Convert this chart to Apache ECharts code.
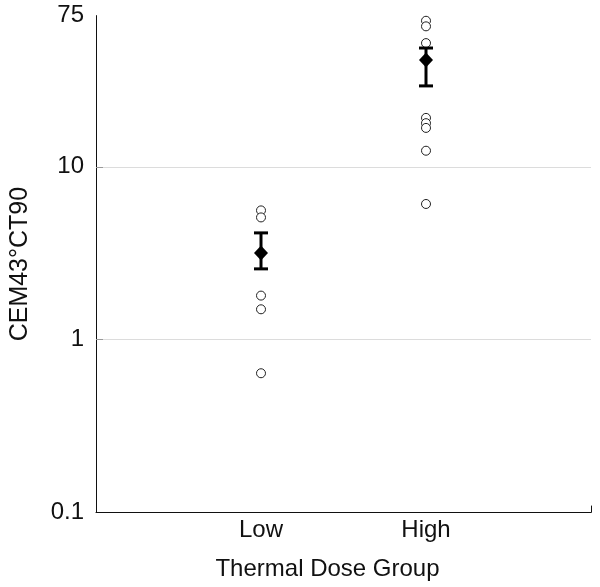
<!DOCTYPE html>
<html>
<head>
<meta charset="utf-8">
<script src="https://cdn.jsdelivr.net/npm/echarts@6/dist/echarts.min.js"></script>
<style>html,body{margin:0;padding:0;background:#fff}#c{width:600px;height:587px}</style>
</head>
<body>
<div id="c"></div>
<script>
var groups = ['Low', 'High'];
var groupPos = [1, 2];
var lowPoints = [5.6, 5.1, 1.8, 1.5, 0.64];
var highPoints = [70, 65, 52, 19.2, 17.9, 16.8, 12.4, 6.1];
var means = [3.18, 41.5];
var errLower = [2.57, 29.4];
var errUpper = [4.15, 48.7];
var yTickLabels = [0.1, 1, 10, 75];

var FONT = 'Liberation Sans, Arial, sans-serif';
var pts = [];
lowPoints.forEach(function (v) { pts.push([groupPos[0], v]); });
highPoints.forEach(function (v) { pts.push([groupPos[1], v]); });
var meanData = means.map(function (v, i) { return [groupPos[i], v]; });
var errData = means.map(function (v, i) { return [groupPos[i], errLower[i], errUpper[i]]; });

var chart = echarts.init(document.getElementById('c'), null, {renderer: 'canvas'});
chart.setOption({
  animation: false,
  backgroundColor: '#fff',
  grid: {left: 95, right: 9, top: 15.6, bottom: 74.4, containLabel: false},
  xAxis: {
    type: 'value', min: 0, max: 3,
    name: 'Thermal Dose Group', nameLocation: 'middle', nameGap: 45,
    nameTextStyle: {fontFamily: FONT, fontSize: 24, color: '#111', padding: [0, 32, 0, 0]},
    axisLine: {show: true, lineStyle: {color: '#111', width: 1}},
    axisTick: {show: true, inside: true, length: 7, customValues: [3], lineStyle: {color: '#111'}},
    axisLabel: {show: true, customValues: groupPos, margin: 6,
      fontFamily: FONT, fontSize: 24, color: '#111',
      formatter: function (v) { var i = groupPos.indexOf(v); return i >= 0 ? groups[i] : ''; }},
    splitLine: {show: false}
  },
  yAxis: {
    type: 'log', logBase: 10, min: 0.1, max: 75,
    name: 'CEM43°CT90', nameLocation: 'middle', nameGap: 63,
    nameTextStyle: {fontFamily: FONT, fontSize: 25, color: '#111'},
    axisLine: {show: true, lineStyle: {color: '#111', width: 1}},
    axisTick: {show: true, inside: true, length: 7, customValues: [1, 10], lineStyle: {color: '#999'}},
    axisLabel: {show: true, customValues: yTickLabels, margin: 12,
      fontFamily: FONT, fontSize: 24, color: '#111',
      formatter: function (v) { return String(+v.toPrecision(3)); }},
    splitLine: {show: true, lineStyle: {color: '#dcdcdc', width: 1}}
  },
  series: [
    {
      type: 'scatter', data: pts, symbol: 'circle', symbolSize: 9, z: 2,
      itemStyle: {color: '#fff', borderColor: '#222', borderWidth: 1, opacity: 1}
    },
    {
      type: 'custom', z: 3, data: errData,
      renderItem: function (params, api) {
        var x = api.value(0);
        var lo = api.coord([x, api.value(1)]);
        var hi = api.coord([x, api.value(2)]);
        var hw = 7;
        var st = {stroke: '#000', lineWidth: 3};
        return {type: 'group', children: [
          {type: 'line', shape: {x1: lo[0], y1: lo[1], x2: hi[0], y2: hi[1]}, style: st},
          {type: 'line', shape: {x1: lo[0] - hw, y1: lo[1], x2: lo[0] + hw, y2: lo[1]}, style: st},
          {type: 'line', shape: {x1: hi[0] - hw, y1: hi[1], x2: hi[0] + hw, y2: hi[1]}, style: st}
        ]};
      }
    },
    {
      type: 'scatter', data: meanData, symbol: 'diamond', symbolSize: [14, 15], z: 4,
      itemStyle: {color: '#000', opacity: 1}
    }
  ]
});
</script>
</body>
</html>
